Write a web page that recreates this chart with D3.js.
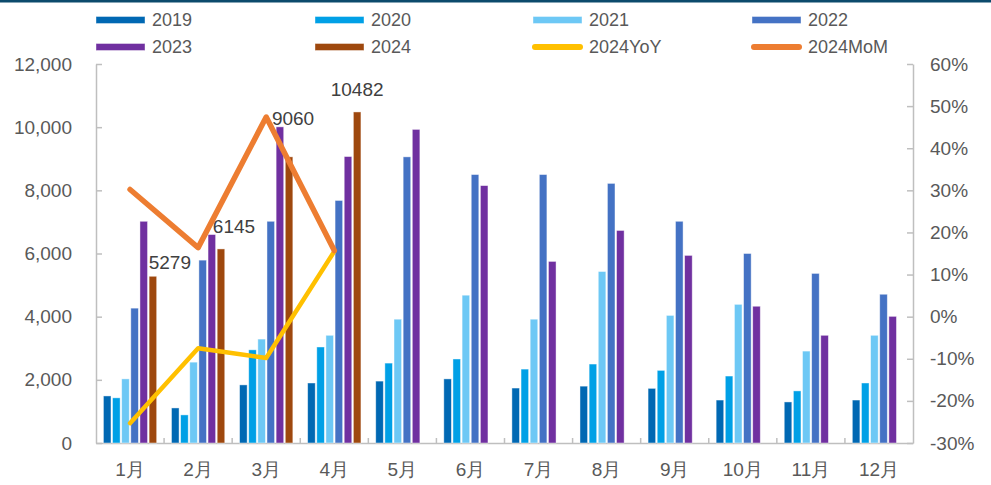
<!DOCTYPE html>
<html>
<head>
<meta charset="utf-8">
<script src="https://cdn.jsdelivr.net/npm/d3@7"></script>
<style>
    body { margin: 0; background: #fff; }
    svg { display: block; font-family: "Liberation Sans", Arial, sans-serif; }
    .axis-style path, .axis-style line { stroke: #bfbfbf; stroke-width: 1.5; }
    .axis-style text { fill: #595959; font-size: 19px; }
</style>
</head>
<body>
<div id="chart"></div>
<script>
// DATA
const months = ["1月", "2月", "3月", "4月", "5月", "6月", "7月", "8月", "9月", "10月", "11月", "12月"];
const years = ["2019", "2020", "2021", "2022", "2023", "2024"];
const v2019 = [1490, 1110, 1840, 1900, 1960, 2030, 1740, 1800, 1730, 1360, 1300, 1360];
const v2020 = [1430, 890, 2950, 3040, 2530, 2660, 2340, 2500, 2300, 2120, 1650, 1900];
const v2021 = [2030, 2560, 3290, 3410, 3920, 4680, 3920, 5430, 4040, 4390, 2910, 3410];
const v2022 = [4270, 5790, 7020, 7680, 9060, 8500, 8500, 8220, 7020, 6000, 5370, 4710];
const v2023 = [7020, 6600, 10010, 9070, 9930, 8150, 5750, 6730, 5940, 4330, 3410, 4010];
const v2024 = [5279, 6145, 9060, 10482];
const yoy2024 = [-25.3, -7.5, -9.8, 15.5];
const mom2024 = [30.2, 16.4, 47.4, 15.7];
const leftTicks = [0, 2000, 4000, 6000, 8000, 10000, 12000];
const rightTicks = [-30, -20, -10, 0, 10, 20, 30, 40, 50, 60];
// 数据标签的手动偏移 (Excel에서 옮겨 놓은 위치)
const labelDx = [17, 13, 4, 0];
const labelDy = [-7, -16, -32, -16];

const seriesValues = [v2019, v2020, v2021, v2022, v2023, v2024];

// COLOR
const barColors = ["#0068B3", "#00A0E6", "#6DC8F5", "#4472C4", "#7030A0", "#9E480E"];
const yoyColor = "#FFC000";
const momColor = "#ED7D31";

const width = 991;
const height = 485;
const plot = { left: 96, right: 913, top: 64, bottom: 443 };

const svg = d3.select("#chart")
    .append("svg")
    .attr("width", width)
    .attr("height", height);

// top border
svg.append("rect")
    .attr("x", 0).attr("y", 0)
    .attr("width", width).attr("height", 2.5)
    .attr("fill", "#0C4A6C");

// SCALES
const x0 = d3.scaleBand()
    .domain(months)
    .range([plot.left, plot.right]);

const slotPad = 7.4;
const x1 = d3.scaleBand()
    .domain(years)
    .range([slotPad, x0.bandwidth() - slotPad])
    .paddingInner(0.17);

const yLeft = d3.scaleLinear()
    .domain([0, 12000])
    .range([plot.bottom, plot.top]);

const yRight = d3.scaleLinear()
    .domain([-30, 60])
    .range([plot.bottom, plot.top]);

// AXES
svg.append("g")
    .attr("class", "axis-style")
    .attr("transform", `translate(${plot.left}, 0)`)
    .call(d3.axisLeft(yLeft).tickValues(leftTicks).tickFormat(d3.format(",")).tickSize(-6).tickSizeOuter(0).tickPadding(24));

svg.append("g")
    .attr("class", "axis-style")
    .attr("transform", `translate(${plot.right}, 0)`)
    .call(d3.axisRight(yRight).tickValues(rightTicks).tickFormat(d => d + "%").tickSize(-6).tickSizeOuter(0).tickPadding(17));

const xAxisGroup = svg.append("g")
    .attr("class", "axis-style")
    .attr("transform", `translate(0, ${plot.bottom})`)
    .call(d3.axisBottom(x0).tickSize(0).tickSizeOuter(0).tickPadding(20));
xAxisGroup.selectAll("text").attr("dy", "0.71em");

// category boundary ticks (going up)
xAxisGroup.selectAll(".boundary")
    .data(months.slice(1))
    .enter()
    .append("line")
    .attr("class", "boundary")
    .attr("x1", d => x0(d))
    .attr("x2", d => x0(d))
    .attr("y1", 0)
    .attr("y2", -5);

// BARS
const barData = [];
seriesValues.forEach((vals, si) => {
    vals.forEach((v, mi) => {
        barData.push({ year: years[si], month: months[mi], value: v, color: barColors[si] });
    });
});

svg.append("g")
    .selectAll("rect")
    .data(barData)
    .enter()
    .append("rect")
    .attr("x", d => x0(d.month) + x1(d.year))
    .attr("y", d => yLeft(d.value))
    .attr("width", x1.bandwidth())
    .attr("height", d => yLeft(0) - yLeft(d.value))
    .attr("fill", d => d.color)
    .attr("stroke", "rgba(255,255,255,0.55)")
    .attr("stroke-width", 0.8);

// LINES
const midX = (i) => x0(months[i]) + x0.bandwidth() / 2;
const line = d3.line()
    .x((d, i) => midX(i))
    .y(d => yRight(d));

svg.append("path")
    .datum(yoy2024)
    .attr("d", line)
    .attr("fill", "none")
    .attr("stroke", yoyColor)
    .attr("stroke-width", 4.5)
    .attr("stroke-linejoin", "round")
    .attr("stroke-linecap", "round");

svg.append("path")
    .datum(mom2024)
    .attr("d", line)
    .attr("fill", "none")
    .attr("stroke", momColor)
    .attr("stroke-width", 5.5)
    .attr("stroke-linejoin", "round")
    .attr("stroke-linecap", "round");

// DATA LABELS (2024)
svg.append("g")
    .selectAll("text")
    .data(v2024)
    .enter()
    .append("text")
    .attr("x", (d, i) => x0(months[i]) + x1("2024") + x1.bandwidth() / 2 + labelDx[i])
    .attr("y", (d, i) => yLeft(d) + labelDy[i])
    .attr("text-anchor", "middle")
    .attr("fill", "#404040")
    .style("font-size", "19px")
    .text(d => d);

// LEGEND
const legendItems = [
    { name: "2019", type: "bar", color: barColors[0] },
    { name: "2020", type: "bar", color: barColors[1] },
    { name: "2021", type: "bar", color: barColors[2] },
    { name: "2022", type: "bar", color: barColors[3] },
    { name: "2023", type: "bar", color: barColors[4] },
    { name: "2024", type: "bar", color: barColors[5] },
    { name: "2024YoY", type: "line", color: yoyColor },
    { name: "2024MoM", type: "line", color: momColor }
];
const legendCols = [96, 315, 533, 752];
const legendRows = [20, 47];

const legendItem = svg.append("g")
    .selectAll(".legend")
    .data(legendItems)
    .enter()
    .append("g")
    .attr("class", "legend")
    .attr("transform", (d, i) => `translate(${legendCols[i % 4]}, ${legendRows[Math.floor(i / 4)]})`);

legendItem.filter(d => d.type === "bar")
    .append("rect")
    .attr("x", 0)
    .attr("y", -3.5)
    .attr("width", 49)
    .attr("height", 7)
    .attr("fill", d => d.color)
    .attr("stroke", "rgba(255,255,255,0.5)")
    .attr("stroke-width", 0.8);

legendItem.filter(d => d.type === "line")
    .append("line")
    .attr("x1", 2)
    .attr("x2", 47)
    .attr("y1", 0)
    .attr("y2", 0)
    .attr("stroke", d => d.color)
    .attr("stroke-width", 6)
    .attr("stroke-linecap", "round");

legendItem.append("text")
    .attr("x", 56)
    .attr("y", 0)
    .attr("dy", "0.35em")
    .attr("fill", "#595959")
    .style("font-size", "18px")
    .text(d => d.name);
</script>
</body>
</html>
